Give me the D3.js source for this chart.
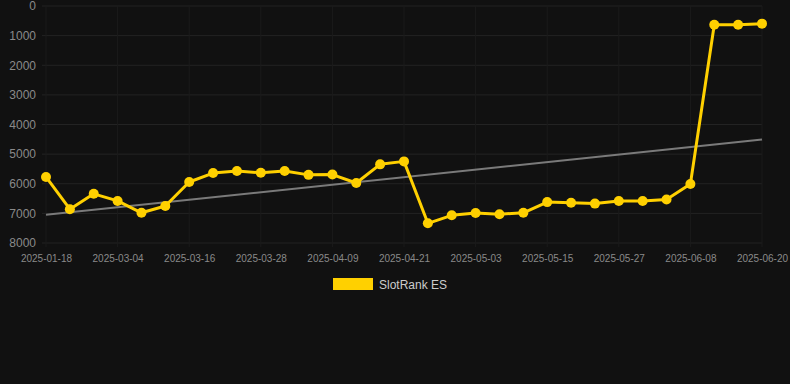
<!DOCTYPE html>
<html><head><meta charset="utf-8">
<script src="https://cdn.jsdelivr.net/npm/d3@7"></script>
<style>
html,body{margin:0;padding:0;background:#111111;}
svg{display:block;}
</style></head>
<body>
<svg id="c" width="790" height="384"></svg>
<script>
const dates = ["2025-01-18","2025-02-24","2025-02-28","2025-03-04","2025-03-08","2025-03-12","2025-03-16","2025-03-20","2025-03-24","2025-03-28","2025-04-01","2025-04-05","2025-04-09","2025-04-13","2025-04-17","2025-04-21","2025-04-25","2025-04-29","2025-05-03","2025-05-07","2025-05-11","2025-05-15","2025-05-19","2025-05-23","2025-05-27","2025-05-31","2025-06-04","2025-06-08","2025-06-12","2025-06-16","2025-06-20"];
const ranks = [5770,6860,6340,6580,6980,6750,5940,5640,5570,5630,5570,5700,5690,5975,5345,5245,7335,7065,6990,7030,6980,6620,6640,6670,6585,6585,6530,6010,630,630,595];
const trend = [7050,4510];
const yTicks = [0,1000,2000,3000,4000,5000,6000,7000,8000];
const seriesName = "SlotRank ES";

const svg = d3.select("#c");
const pLeft = 46, pRight = 762, pTop = 6, pBottom = 243;
const x = d3.scalePoint().domain(dates).range([pLeft, pRight]).padding(0);
const y = d3.scaleLinear().domain([0, 8000]).range([pTop, pBottom]);

// grid
const g = svg.append("g");
g.selectAll("line.h").data(yTicks).enter().append("line")
  .attr("x1", pLeft - 4).attr("x2", pRight).attr("y1", d => y(d)).attr("y2", d => y(d))
  .attr("stroke", "#232323").attr("stroke-width", 1);
const labeled = dates.filter((d, i) => i % 3 === 0);
g.selectAll("line.v").data(labeled).enter().append("line")
  .attr("x1", d => x(d)).attr("x2", d => x(d)).attr("y1", pTop).attr("y2", pBottom + 4)
  .attr("stroke", "#1b1b1b").attr("stroke-width", 1);

// y axis
const yAxis = d3.axisLeft(y).tickValues(yTicks).tickSize(0).tickPadding(0).tickFormat(d3.format("d"));
const ya = svg.append("g").attr("transform", `translate(36,0)`).call(yAxis);
ya.select(".domain").remove();
ya.selectAll("text").attr("fill", "#8a8a8a").style("font-family", "Liberation Sans, Arial, sans-serif").style("font-size", "12px");

// x axis
const xAxis = d3.axisBottom(x).tickValues(labeled).tickSize(0).tickPadding(0);
const xa = svg.append("g").attr("transform", `translate(0,${pBottom + 12})`).call(xAxis);
xa.select(".domain").remove();
xa.selectAll("text").attr("fill", "#8a8a8a").style("font-family", "Liberation Sans, Arial, sans-serif").style("font-size", "10px");

// trend
svg.append("line")
  .attr("x1", x(dates[0])).attr("x2", x(dates[dates.length - 1]))
  .attr("y1", y(trend[0])).attr("y2", y(trend[1]))
  .attr("stroke", "#7a7a7a").attr("stroke-width", 2);

// line
const line = d3.line().x((d, i) => x(dates[i])).y(d => y(d));
svg.append("path").datum(ranks).attr("d", line)
  .attr("fill", "none").attr("stroke", "#FFD000").attr("stroke-width", 3).attr("stroke-linejoin", "round");
svg.selectAll("circle.p").data(ranks).enter().append("circle")
  .attr("cx", (d, i) => x(dates[i])).attr("cy", d => y(d)).attr("r", 5)
  .attr("fill", "#FFD000");

// legend
svg.append("rect").attr("x", 333).attr("y", 278).attr("width", 40).attr("height", 12).attr("fill", "#FFD000");
svg.append("text").attr("x", 379).attr("y", 288.5).text(seriesName)
  .attr("fill", "#cccccc").style("font-family", "Liberation Sans, Arial, sans-serif").style("font-size", "12px");
</script>
</body></html>
